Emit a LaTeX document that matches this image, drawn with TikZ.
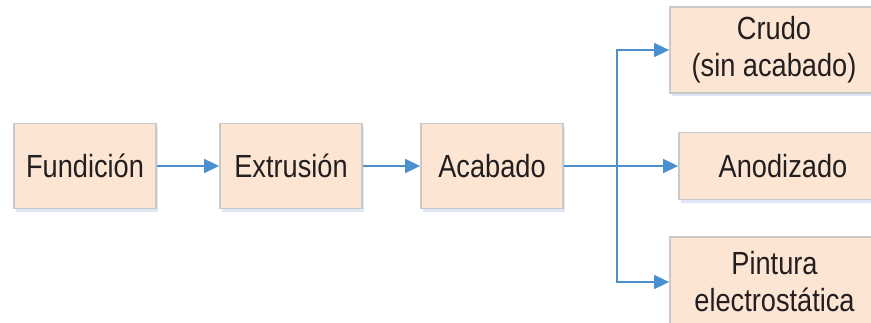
\documentclass[tikz,border=0pt]{standalone}
\usepackage{fontspec}
\setmainfont[FakeStretch=0.85]{Liberation Sans}
\usetikzlibrary{arrows.meta,shadows}
\definecolor{boxfill}{HTML}{FCE5D3}
\definecolor{boxline}{HTML}{C9C9C9}
\definecolor{flow}{HTML}{4A90D0}
\definecolor{ink}{HTML}{231F20}
\definecolor{shade}{HTML}{C6D6EC}
\tikzset{
  stage/.style={draw=boxline, line width=1.8pt, fill=boxfill, inner sep=0pt,
    text=ink, font=\fontsize{32}{37}\selectfont, align=center,
    drop shadow={shadow xshift=1.5pt, shadow yshift=-3.5pt, fill=shade, opacity=0.6}},
  flowline/.style={draw=flow, line width=1.8pt},
  flowarrow/.style={flowline, -{Triangle[length=15pt,width=14pt]}}
}
\begin{document}
\begin{tikzpicture}[x=1pt,y=1pt]
  \useasboundingbox (0,0) rectangle (871,322);
  \clip (0,0) rectangle (871,322);
  % main chain
  \node[stage, minimum width=142pt, minimum height=85pt] (fun) at (85,156) {Fundición};
  \node[stage, minimum width=142pt, minimum height=85pt] (ext) at (291,156) {Extrusión};
  \node[stage, minimum width=142pt, minimum height=85pt] (aca) at (492,156) {Acabado};
  % finishing options
  \node[stage, minimum width=208pt, minimum height=86pt] (cru) at (774,272) {Crudo\\(sin acabado)};
  \node[stage, minimum width=208pt, minimum height=67pt] (ano) at (783,156) {Anodizado};
  \node[stage, minimum width=209pt, minimum height=90pt] (pin) at (774.5,40) {Pintura\\electrostática};
  % connectors
  \draw[flowarrow] (fun.east) -- (ext.west);
  \draw[flowarrow] (ext.east) -- (aca.west);
  \coordinate (split) at (617,156);
  \draw[flowarrow] (aca.east) -- (ano.west);
  \draw[flowarrow] (split) |- (cru.west);
  \draw[flowarrow] (split) |- (pin.west);
\end{tikzpicture}
\end{document}
